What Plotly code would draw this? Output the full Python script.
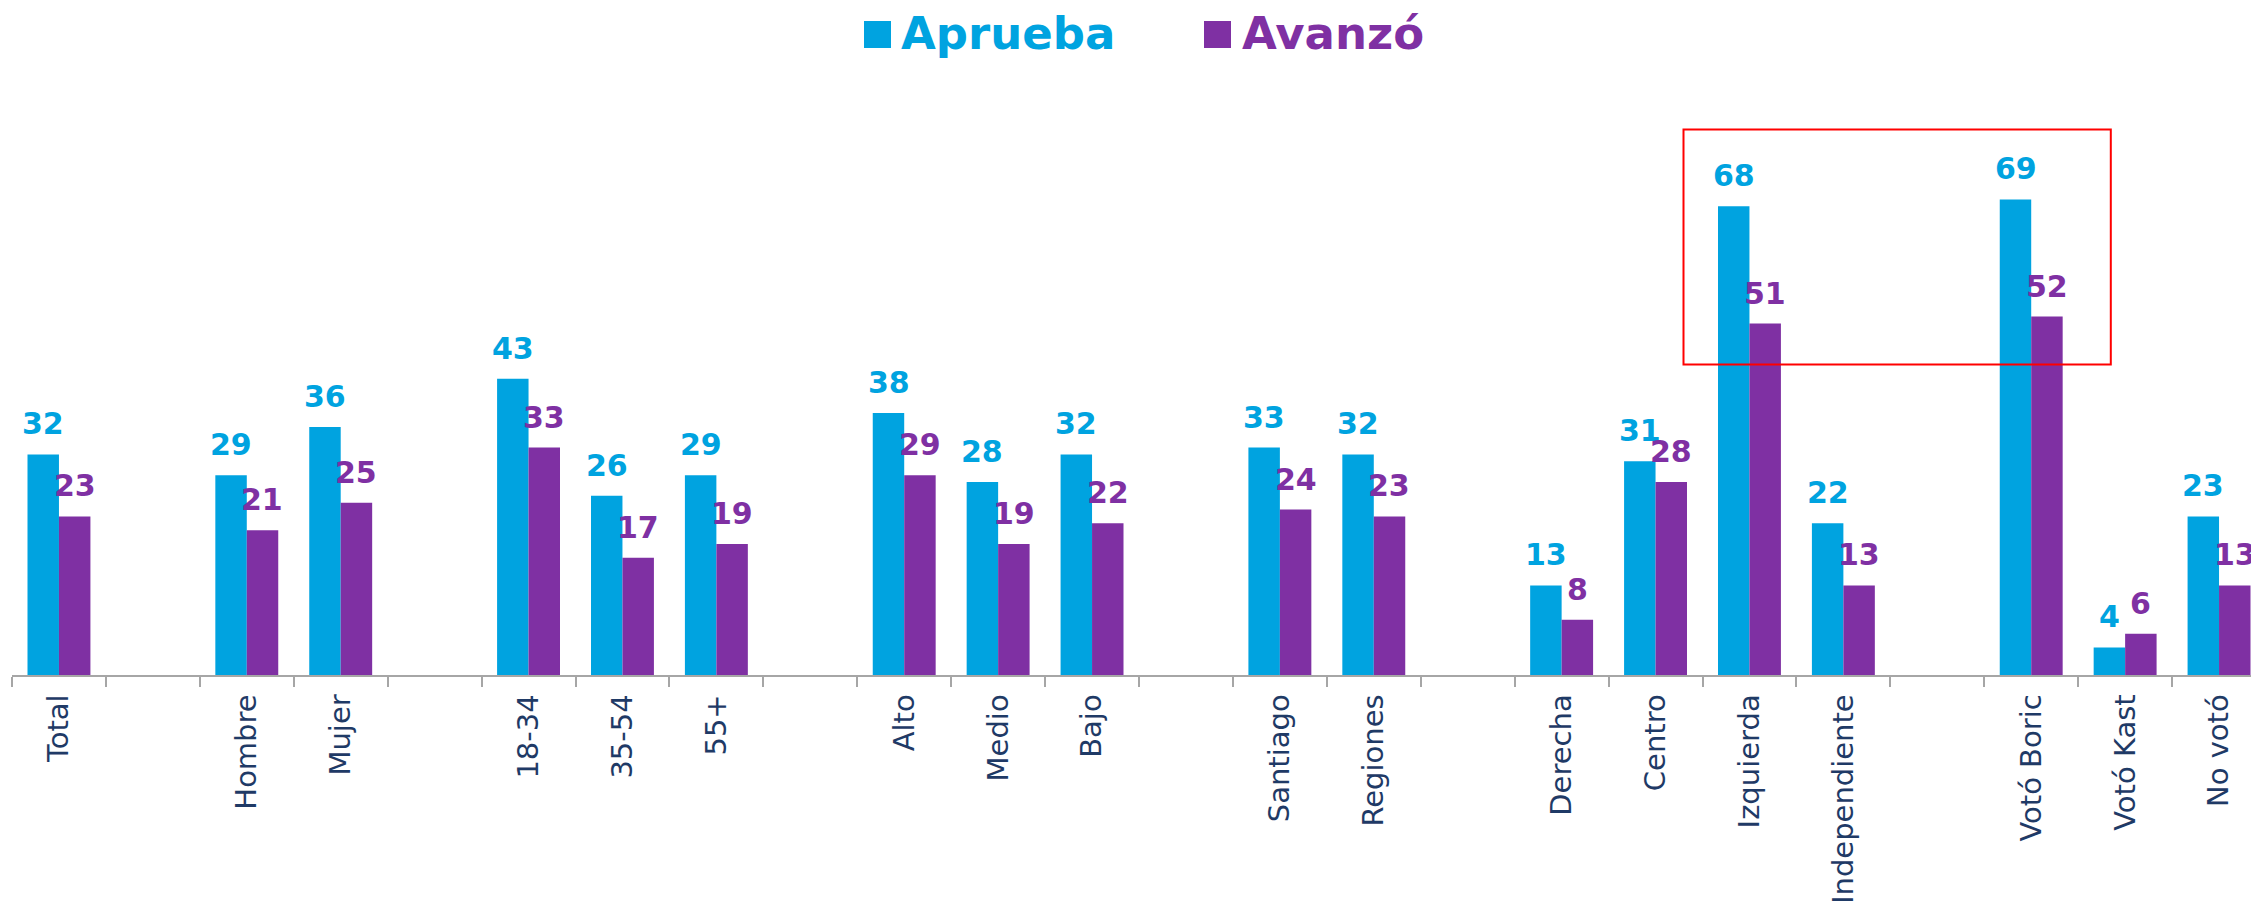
import plotly.graph_objects as go

# ---- data ----
categories = ["Total", " ", "Hombre", "Mujer", "  ", "18-34", "35-54", "55+", "   ",
              "Alto", "Medio", "Bajo", "    ", "Santiago", "Regiones", "     ",
              "Derecha", "Centro", "Izquierda", "Independiente", "      ",
              "Votó Boric", "Votó Kast", "No votó"]
aprueba = [32, None, 29, 36, None, 43, 26, 29, None, 38, 28, 32, None, 33, 32, None,
           13, 31, 68, 22, None, 69, 4, 23]
avanzo = [23, None, 21, 25, None, 33, 17, 19, None, 29, 19, 22, None, 24, 23, None,
          8, 28, 51, 13, None, 52, 6, 13]
series_names = ["Aprueba", "Avanzó"]

# ---- style ----
BLUE = "#00A3E0"
PURPLE = "#7F30A3"
NAVY = "#1F3A66"
W, H = 2259, 901
OFF = 8  # page body margin offset
ML, MR, MT, MB = 4, 1, 117, 234
FONT = "DejaVu Sans"

fig = go.Figure()
for name, vals, col in [(series_names[0], aprueba, BLUE), (series_names[1], avanzo, PURPLE)]:
    fig.add_trace(go.Bar(x=categories, y=vals, name=name, marker=dict(color=col, line=dict(width=0)),
                         showlegend=False))

# value labels
half = 15.7
for vals, col, sh in [(aprueba, BLUE, -half), (avanzo, PURPLE, half)]:
    for c, v in zip(categories, vals):
        if v is None:
            continue
        fig.add_annotation(x=c, y=v, text=str(v), showarrow=False, xanchor="center", yanchor="bottom",
                           xshift=sh, yshift=11, font=dict(family=FONT, size=30, color=col, weight="bold"))

# legend drawn with shapes + text (coordinates given in screenshot pixels)
pw = W - ML - MR
ph = H - MT - MB
def px(x):
    return (x - OFF - ML) / pw
def py(y):
    return (H - MB - (y - OFF)) / ph

for (x0, tx), name, col in [((864, 902), series_names[0], BLUE), ((1204, 1243), series_names[1], PURPLE)]:
    fig.add_shape(type="rect", xref="paper", yref="paper", x0=px(x0), x1=px(x0 + 27), y0=py(48), y1=py(21),
                  fillcolor=col, line=dict(width=0))
    fig.add_annotation(xref="paper", yref="paper", x=px(tx - 3), y=py(34), text=name, showarrow=False,
                       xanchor="left", yanchor="middle",
                       font=dict(family=FONT, size=45, color=col, weight="bold"))

# red highlight rectangle
fig.add_shape(type="rect", xref="paper", yref="paper", x0=px(1683.5), x1=px(2110.8), y0=py(364.6), y1=py(129.5),
              line=dict(color="#FF0000", width=2), fillcolor="rgba(0,0,0,0)")

fig.update_layout(
    width=W, height=H,
    margin=dict(l=ML, r=MR, t=MT, b=MB, autoexpand=False),
    barmode="group", bargap=0.33, bargroupgap=0,
    plot_bgcolor="white", paper_bgcolor="white",
    showlegend=False,
)
fig.update_xaxes(type="category", categoryorder="array", categoryarray=categories,
                 range=[-0.5, 23.5], tickson="boundaries", ticks="outside", ticklen=10,
                 tickcolor="#A6A6A6", tickwidth=1.5, showline=True, linecolor="#A6A6A6", linewidth=1.5,
                 tickangle=-90, tickfont=dict(family=FONT, size=29, color=NAVY),
                 ticklabelstandoff=6, showgrid=False, automargin=False)
fig.update_yaxes(range=[0, 79.8], visible=False, showgrid=False, zeroline=False, automargin=False)

fig.write_html("out.html")
